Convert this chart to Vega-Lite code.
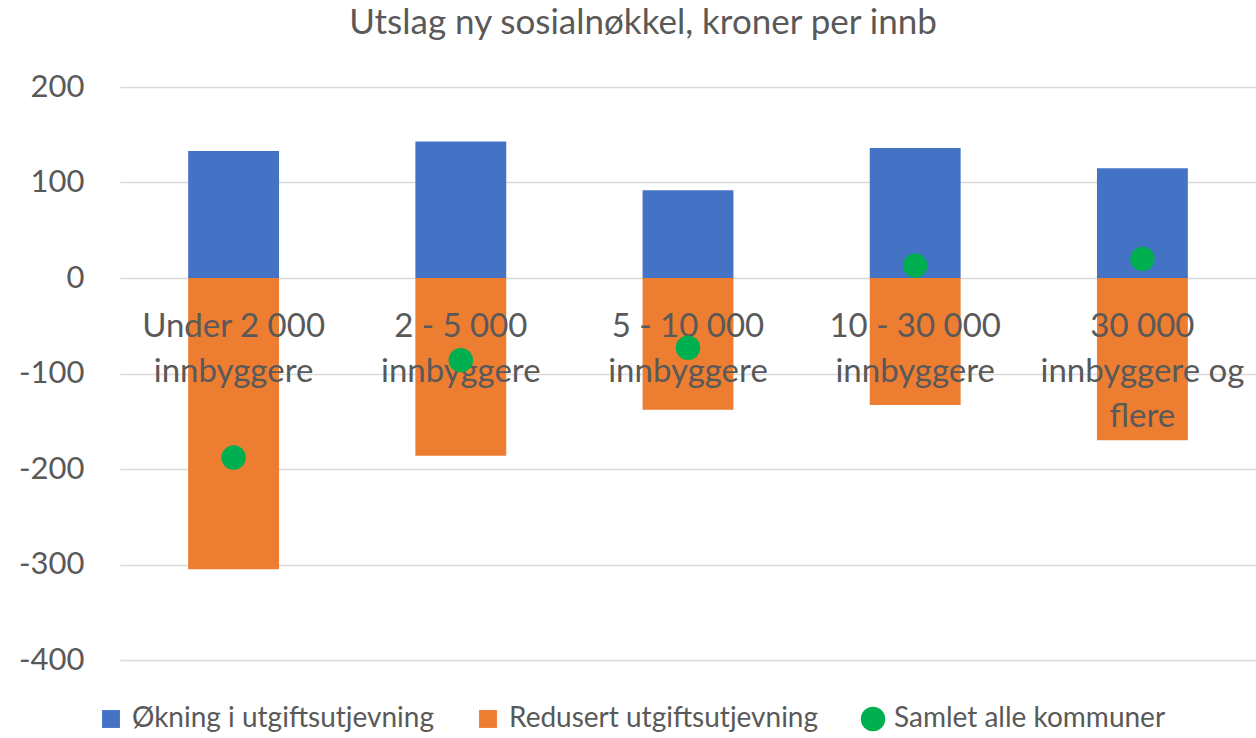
{
  "$schema": "https://vega.github.io/schema/vega-lite/v6.json",
  "width": 1136,
  "height": 573,
  "autosize": {"type": "none"},
  "padding": {"left": 120, "top": 87, "right": 0, "bottom": 78},
  "background": "white",
  "config": {
    "view": {"stroke": null},
    "font": "Lato"
  },
  "title": {
    "text": "Utslag ny sosialnøkkel, kroner per innb",
    "font": "Lato",
    "fontSize": 35,
    "fontWeight": "normal",
    "color": "#595959",
    "anchor": "middle",
    "dx": -45,
    "offset": 30
  },
  "data": {
    "values": [
      {"kategori": "Under 2 000|innbyggere", "serie": "Økning i utgiftsutjevning", "verdi": 133},
      {"kategori": "2 - 5 000|innbyggere", "serie": "Økning i utgiftsutjevning", "verdi": 143},
      {"kategori": "5 - 10 000|innbyggere", "serie": "Økning i utgiftsutjevning", "verdi": 92},
      {"kategori": "10 - 30 000|innbyggere", "serie": "Økning i utgiftsutjevning", "verdi": 136},
      {"kategori": "30 000|innbyggere og|flere", "serie": "Økning i utgiftsutjevning", "verdi": 115},
      {"kategori": "Under 2 000|innbyggere", "serie": "Redusert utgiftsutjevning", "verdi": -305},
      {"kategori": "2 - 5 000|innbyggere", "serie": "Redusert utgiftsutjevning", "verdi": -186},
      {"kategori": "5 - 10 000|innbyggere", "serie": "Redusert utgiftsutjevning", "verdi": -138},
      {"kategori": "10 - 30 000|innbyggere", "serie": "Redusert utgiftsutjevning", "verdi": -133},
      {"kategori": "30 000|innbyggere og|flere", "serie": "Redusert utgiftsutjevning", "verdi": -170},
      {"kategori": "Under 2 000|innbyggere", "serie": "Samlet alle kommuner", "verdi": -188},
      {"kategori": "2 - 5 000|innbyggere", "serie": "Samlet alle kommuner", "verdi": -86},
      {"kategori": "5 - 10 000|innbyggere", "serie": "Samlet alle kommuner", "verdi": -73},
      {"kategori": "10 - 30 000|innbyggere", "serie": "Samlet alle kommuner", "verdi": 13},
      {"kategori": "30 000|innbyggere og|flere", "serie": "Samlet alle kommuner", "verdi": 20}
    ]
  },
  "encoding": {
    "x": {
      "field": "kategori",
      "type": "nominal",
      "sort": null,
      "axis": null,
      "scale": {"paddingInner": 0, "paddingOuter": 0}
    }
  },
  "layer": [
    {
      "transform": [{"filter": "datum.serie !== 'Samlet alle kommuner'"}],
      "mark": {"type": "bar", "width": {"band": 0.4}, "cornerRadius": 0},
      "encoding": {
        "y": {
          "field": "verdi",
          "type": "quantitative",
          "stack": null,
          "scale": {"domain": [-400, 200], "nice": false, "zero": true},
          "axis": {
            "title": null,
            "values": [-400, -300, -200, -100, 0, 100, 200],
            "labelExpr": "'' + datum.value",
            "grid": true,
            "gridColor": "#d9d9d9",
            "gridWidth": 1.5,
            "domain": false,
            "ticks": false,
            "labelFont": "Lato",
            "labelFontSize": 31,
            "labelColor": "#595959",
            "labelPadding": 36
          }
        },
        "color": {
          "field": "serie",
          "type": "nominal",
          "scale": {
            "domain": ["Økning i utgiftsutjevning", "Redusert utgiftsutjevning", "Samlet alle kommuner"],
            "range": ["#4472C4", "#ED7D31", "#00B050"]
          },
          "legend": {
            "title": null,
            "orient": "none",
            "direction": "horizontal",
            "legendX": -23,
            "legendY": 618,
            "labelFont": "Lato",
            "labelFontSize": 28,
            "labelColor": "#595959",
            "labelLimit": 0,
            "labelOffset": 7,
            "columnPadding": 40,
            "symbolStrokeWidth": 0,
            "symbolOpacity": 1,
            "encode": {
              "symbols": {
                "update": {
                  "shape": {"signal": "datum.value === 'Samlet alle kommuner' ? 'circle' : 'square'"},
                  "size": {"signal": "datum.value === 'Samlet alle kommuner' ? 600 : 320"},
                  "strokeWidth": {"value": 0}
                }
              }
            }
          }
        }
      }
    },
    {
      "transform": [{"filter": "datum.serie === 'Samlet alle kommuner'"}],
      "mark": {
        "type": "text",
        "font": "Lato",
        "fontSize": 33,
        "color": "#595959",
        "align": "center",
        "baseline": "alphabetic",
        "lineBreak": "|",
        "lineHeight": 45,
        "dy": 59
      },
      "encoding": {
        "y": {"datum": 0},
        "text": {"field": "kategori"}
      }
    },
    {
      "transform": [{"filter": "datum.serie === 'Samlet alle kommuner'"}],
      "mark": {"type": "point", "shape": "circle", "filled": true, "size": 600, "opacity": 1},
      "encoding": {
        "y": {"field": "verdi", "type": "quantitative"},
        "color": {"field": "serie", "type": "nominal"}
      }
    }
  ]
}
